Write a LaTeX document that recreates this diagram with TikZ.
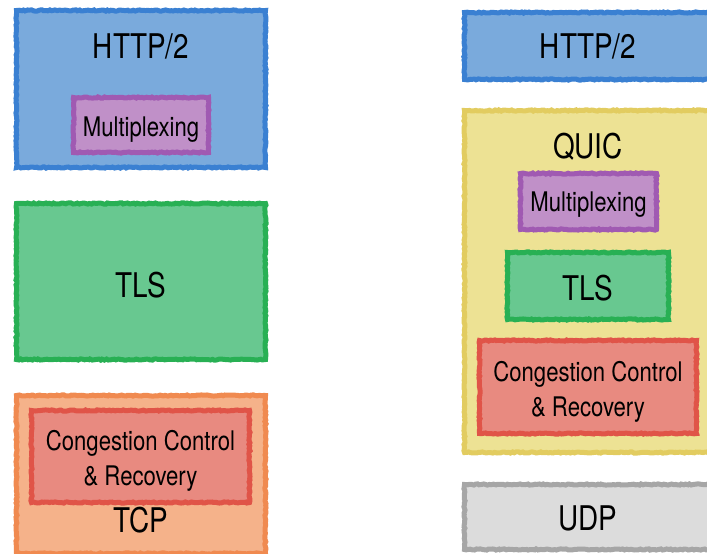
\documentclass[tikz,border=0pt]{standalone}
\usepackage{fontspec}
\setmainfont{TeX Gyre Heros}[FakeStretch=0.82]
\usetikzlibrary{decorations.pathmorphing}

\definecolor{httpfill}{RGB}{122,170,220}
\definecolor{httpline}{RGB}{58,128,210}
\definecolor{muxfill}{RGB}{192,144,200}
\definecolor{muxline}{RGB}{160,90,178}
\definecolor{tlsfill}{RGB}{104,200,144}
\definecolor{tlsline}{RGB}{40,176,84}
\definecolor{tcpfill}{RGB}{245,178,138}
\definecolor{tcpline}{RGB}{240,138,80}
\definecolor{ccfill}{RGB}{232,138,128}
\definecolor{ccline}{RGB}{224,84,72}
\definecolor{quicfill}{RGB}{237,226,148}
\definecolor{quicline}{RGB}{226,204,96}
\definecolor{udpfill}{RGB}{220,220,220}
\definecolor{udpline}{RGB}{166,166,166}

\begin{document}
\begin{tikzpicture}[x=1pt, y=-1pt,
	layer/.style={draw, line width=5pt, inner sep=0pt,
		decorate, decoration={random steps, segment length=2pt, amplitude=0.6pt}},
	big/.style={font=\fontsize{34}{40}\selectfont},
	small/.style={font=\fontsize{27}{35}\selectfont, align=center}]
	\useasboundingbox (0,0) rectangle (707,554);
	\clip (0,0) rectangle (707,554);

	% left stack: HTTP/2 over TLS over TCP
	\node[layer, fill=httpfill, draw=httpline, minimum width=249pt, minimum height=157pt] (h2) at (141,89) {};
	\node[big] (h2txt) at (141,46) {HTTP/2};
	\node[layer, fill=muxfill, draw=muxline, minimum width=135pt, minimum height=55pt] (mux) at (141,125) {};
	\node[small] (muxtxt) at (141,130) {Multiplexing};

	\node[layer, fill=tlsfill, draw=tlsline, minimum width=249pt, minimum height=156pt] (tls) at (141,281.5) {};
	\node[big] (tlstxt) at (141,285) {TLS};

	\node[layer, fill=tcpfill, draw=tcpline, minimum width=249pt, minimum height=158pt] (tcp) at (141,474.5) {};
	\node[layer, fill=ccfill, draw=ccline, minimum width=218pt, minimum height=92pt] (cc) at (140.5,456.5) {};
	\node[small] (cctxt) at (140.5,461) {Congestion Control\\\& Recovery};
	\node[big] (tcptxt) at (141,520) {TCP};

	% right stack: HTTP/2 over QUIC over UDP
	\node[layer, fill=httpfill, draw=httpline, minimum width=249pt, minimum height=67pt] (qh2) at (589,46) {};
	\node[big] (qh2txt) at (588,46) {HTTP/2};

	\node[layer, fill=quicfill, draw=quicline, minimum width=249pt, minimum height=342pt] (quic) at (589,281.5) {};
	\node[big] (quictxt) at (588,147) {QUIC};
	\node[layer, fill=muxfill, draw=muxline, minimum width=136pt, minimum height=56pt] (qmux) at (588.5,201.5) {};
	\node[small] (qmuxtxt) at (588.5,205) {Multiplexing};
	\node[layer, fill=tlsfill, draw=tlsline, minimum width=161pt, minimum height=67pt] (qtls) at (588,286) {};
	\node[big] (qtlstxt) at (588,288) {TLS};
	\node[layer, fill=ccfill, draw=ccline, minimum width=217pt, minimum height=93pt] (qcc) at (588,387) {};
	\node[small] (qcctxt) at (588,392) {Congestion Control\\\& Recovery};

	\node[layer, fill=udpfill, draw=udpline, minimum width=249pt, minimum height=65pt] (udp) at (589,517) {};
	\node[big] (udptxt) at (588,518) {UDP};
\end{tikzpicture}
\end{document}
